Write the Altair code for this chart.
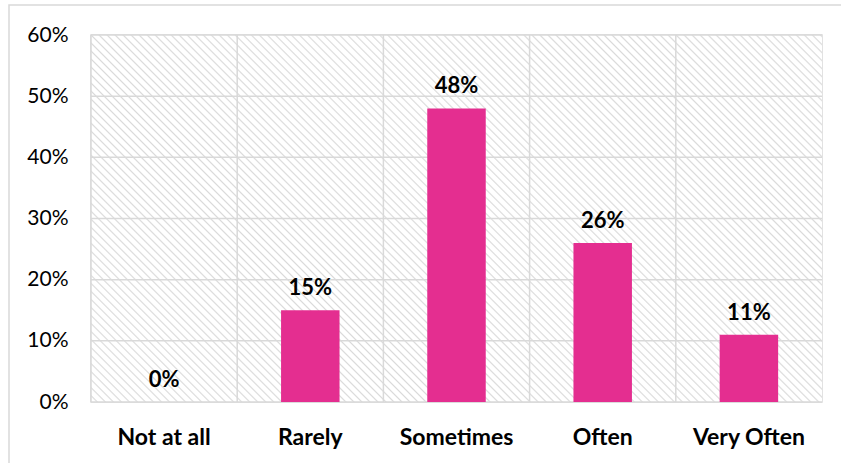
import altair as alt
import pandas as pd
import math

# ---- data ----
categories = ["Not at all", "Rarely", "Sometimes", "Often", "Very Often"]
shares = [0.00, 0.15, 0.48, 0.26, 0.11]
y_ticks = [0.0, 0.1, 0.2, 0.3, 0.4, 0.5, 0.6]

W, H = 731, 367
FONT = "Lato"
GRID = "#d9d9d9"
BAR = "#E42E90"

df = pd.DataFrame({"cat": categories, "share": shares})
ticks_df = pd.DataFrame({"v": y_ticks})

# ---- hatch background built as a striped linear gradient (45 deg, "\" stripes) ----
d = (1.0, -H / W)
S = (0.0, 1.0)
k = ((1.0) * d[0] + (-1.0) * d[1]) / (d[0] ** 2 + d[1] ** 2)
E = (S[0] + k * d[0], S[1] + k * d[1])
span = (W + H) / math.sqrt(2)
period = 8 / math.sqrt(2)
N = int(round(span / period))
stops = []
light, dark = "#ffffff", "#dadada"
for i in range(N):
    stops += [
        alt.GradientStop(color=light, offset=i / N),
        alt.GradientStop(color=light, offset=(i + 0.6) / N),
        alt.GradientStop(color=dark, offset=(i + 0.8) / N),
    ]
stops.append(alt.GradientStop(color=light, offset=1.0))
hatch = alt.LinearGradient(gradient="linear", stops=stops, x1=S[0], y1=S[1], x2=E[0], y2=E[1])

one = pd.DataFrame({"a": [0]})

bg = alt.Chart(one).mark_rect(fill=hatch, strokeWidth=0).encode(
    x=alt.value(0), x2=alt.value(W), y=alt.value(0), y2=alt.value(H)
)

outer = alt.Chart(one).mark_rect(fill=None, stroke=GRID, strokeWidth=1.5).encode(
    x=alt.value(-82), x2=alt.value(W + 300), y=alt.value(-30), y2=alt.value(H + 300)
)

yscale = alt.Scale(domain=[0, 0.6], nice=False)
xscale = alt.Scale(domain=categories, paddingInner=0, paddingOuter=0)

xaxis = alt.Axis(
    title=None, labelAngle=0, ticks=False, domain=False, grid=False,
    bandPosition=0.5,
    labelFont=FONT, labelFontSize=23, labelFontWeight="bold",
    labelColor="#000000", labelPadding=24,
)
yaxis = alt.Axis(
    title=None, values=y_ticks, format=".0%", ticks=False, domain=False,
    grid=False, labelFont=FONT, labelFontSize=21, labelColor="#000000",
    labelPadding=23,
)

hgrid = alt.Chart(ticks_df).mark_rule(color=GRID, strokeWidth=1.5).encode(
    y=alt.Y("v:Q", scale=yscale, axis=yaxis)
)

vgrid = alt.Chart(df).mark_rule(color=GRID, strokeWidth=1.5).encode(
    x=alt.X("cat:N", scale=xscale, sort=categories, bandPosition=0, axis=xaxis)
)

bars = alt.Chart(df).mark_bar(color=BAR, width=alt.RelativeBandSize(0.4)).encode(
    x=alt.X("cat:N", scale=xscale, sort=categories, axis=xaxis),
    y=alt.Y("share:Q", scale=yscale, axis=yaxis),
)

labels = alt.Chart(df).mark_text(
    font=FONT, fontSize=22, fontWeight="bold", color="#000000",
    baseline="alphabetic", dy=-15,
).encode(
    x=alt.X("cat:N", scale=xscale, sort=categories, axis=xaxis),
    y=alt.Y("share:Q", scale=yscale, axis=yaxis),
    text=alt.Text("share:Q", format=".0%"),
)

chart = alt.layer(outer, bg, hgrid, vgrid, bars, labels).properties(
    width=W, height=H,
    autosize=alt.AutoSizeParams(type="none"),
    padding={"left": 91, "top": 35, "right": 19, "bottom": 61},
    background="#ffffff",
).configure_view(stroke=GRID, strokeWidth=1.5)

chart.save("out.html", embed_options={"renderer": "svg", "actions": False})
